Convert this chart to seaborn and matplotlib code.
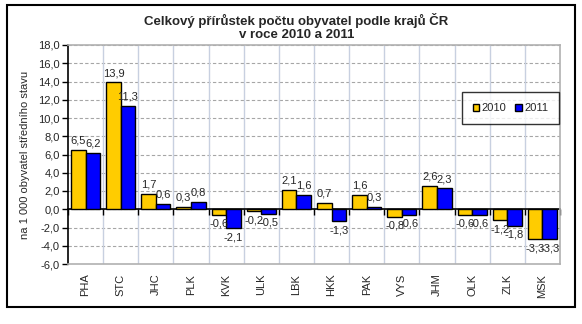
import matplotlib
matplotlib.use("Agg")
import matplotlib.pyplot as plt
import seaborn as sns
import pandas as pd
import numpy as np
from matplotlib.patches import Rectangle

regions = ["PHA", "STC", "JHC", "PLK", "KVK", "ULK", "LBK", "HKK", "PAK", "VYS", "JHM", "OLK", "ZLK", "MSK"]
v2010 = [6.5, 13.9, 1.7, 0.3, -0.6, -0.2, 2.1, 0.7, 1.6, -0.8, 2.6, -0.6, -1.2, -3.3]
v2011 = [6.2, 11.3, 0.6, 0.8, -2.1, -0.5, 1.6, -1.3, 0.3, -0.6, 2.3, -0.6, -1.8, -3.3]
years = ["2010", "2011"]
colors = ["#FFCC00", "#0000FF"]

df = pd.DataFrame({
    "kraj": regions * 2,
    "rok": [years[0]] * len(regions) + [years[1]] * len(regions),
    "hodnota": v2010 + v2011,
})

sns.set_style("white")
plt.rcParams["font.family"] = ["Liberation Sans", "DejaVu Sans"]

fig = plt.figure(figsize=(5.82, 3.24), dpi=100)
ax = fig.add_axes([68/582, 1-264/324, (560-68)/582, (264-45)/324])

sns.barplot(data=df, x="kraj", y="hodnota", hue="rok", palette=colors, saturation=1,
            width=0.83, edgecolor="black", linewidth=1.0, ax=ax, legend=True)

ymin, ymax = -6, 18
ax.set_ylim(ymin, ymax)
ax.set_xlim(-0.5, len(regions) - 0.5)
ax.set_yticks(np.arange(-6, 18.1, 2))
ax.set_yticklabels([f"{t:.1f}".replace(".", ",") for t in np.arange(-6, 18.1, 2)], fontsize=8)
ax.set_xticks(range(len(regions)))
ax.set_xticklabels(regions, rotation=90, fontsize=8)
ax.tick_params(axis="x", length=0, pad=7)
ax.tick_params(axis="y", length=4, width=1, color="black", direction="out", pad=2, left=True)

# gridlines
for t in np.arange(-4, 18.1, 2):
    ax.axhline(t, color="#A6A6A6", linestyle=(0, (3, 2)), linewidth=0.8, zorder=0)
for b in np.arange(0.5, len(regions) - 0.5, 1):
    ax.axvline(b, color="#C8D0E0", linewidth=1.0, zorder=0)

for s in ["top", "right", "bottom"]:
    ax.spines[s].set_color("#B0B0B0")
    ax.spines[s].set_linewidth(1.2)
ax.spines["left"].set_color("black")
ax.spines["left"].set_linewidth(1.2)

# zero axis with category-boundary ticks
zero_loc = (0 - ymin) / (ymax - ymin)
sec = ax.secondary_xaxis(zero_loc)
sec.set_xticks(np.arange(-0.5, len(regions), 1))
sec.set_xticklabels([])
sec.tick_params(direction="out", length=4, width=1, color="black")
sec.spines["bottom"].set_color("black")
sec.spines["bottom"].set_linewidth(1.2)

# data labels
for container in ax.containers:
    labels = [f"{b.get_height():.1f}".replace(".", ",") for b in container]
    ax.bar_label(container, labels=labels, padding=3, fontsize=8)

ax.set_xlabel("")
ax.set_ylabel("na 1 000 obyvatel středního stavu", fontsize=8, labelpad=6)

leg = ax.legend(loc="upper left", bbox_to_anchor=(0.80, 0.785), ncol=2, fontsize=8,
                frameon=True, fancybox=False, edgecolor="black", handlelength=0.6,
                handleheight=0.6, handletextpad=0.2, columnspacing=0.8,
                borderpad=1.0, borderaxespad=0)
leg.get_frame().set_linewidth(1.0)

fig.text(0.509, 1-27/324, "Celkový přírůstek počtu obyvatel podle krajů ČR\nv roce 2010 a 2011",
         ha="center", va="center", fontsize=9.5, fontweight="bold", linespacing=1.1)

fig.patches.append(Rectangle((7/582, 1-307/324), (575-7)/582, (307-5)/324,
                             transform=fig.transFigure, fill=False, edgecolor="black",
                             linewidth=1.5))

fig.savefig("out.png", dpi=100)
